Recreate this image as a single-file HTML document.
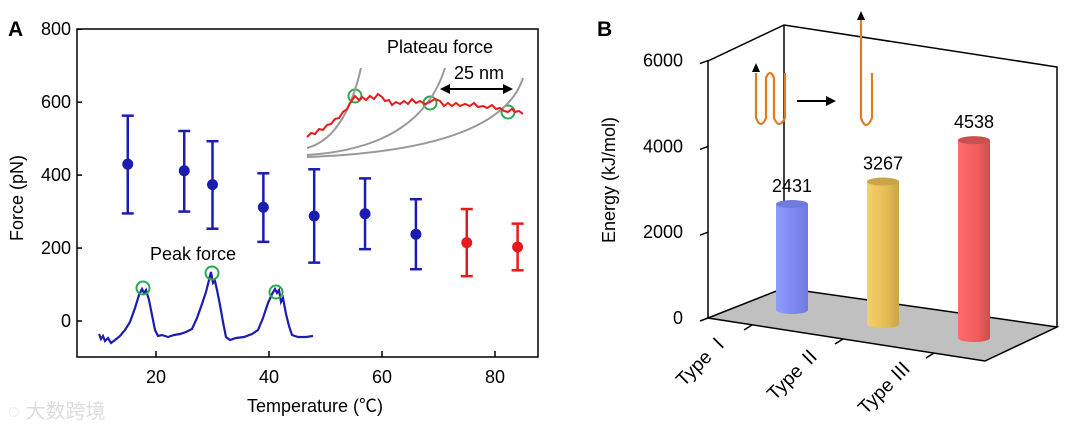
<!DOCTYPE html>
<html><head><meta charset="utf-8"><style>
body{margin:0;background:#fff;}
svg{display:block;font-family:"Liberation Sans","Noto Sans CJK SC",sans-serif;}
</style></head><body>
<svg width="1080" height="430" viewBox="0 0 1080 430">
<g id="panelA"></g>
<g id="panelB"></g>
<text x="8" y="418" font-size="20" fill="#ddd">◌ 大数跨境</text>
</svg>
<script>
const temps=[15,25,30,39,48,57,66,75,84];
const forceMean=[430,412,374,312,288,294,238,215,203];
const forceLow=[295,300,253,217,160,197,142,123,139];
const forceHigh=[563,521,493,405,416,391,334,307,267];
const pointColors=["b","b","b","b","b","b","b","r","r"];
const xTicks=[20,40,60,80];
const yTicks=[0,200,400,600,800];
const energyCats=["Type Ⅰ","Type Ⅱ","Type Ⅲ"];
const energyVals=[2431,3267,4538];
const energyTicks=[0,2000,4000,6000];

const NS="http://www.w3.org/2000/svg";
function mk(tag,attrs,parent,text){const e=document.createElementNS(NS,tag);for(const k in attrs)e.setAttribute(k,attrs[k]);if(text!==undefined)e.textContent=text;parent.appendChild(e);return e;}
const A=document.getElementById('panelA');
const xs=v=>43+v*5.65;
const ys=v=>321-v*0.3647;
let e=mk('rect',{x:77,y:29,width:461,height:328,fill:'none',stroke:'#000','stroke-width':1.5},A);

e=mk('text',{x:8,y:36,'font-size':21,'font-weight':'bold'},A,'A');

yTicks.forEach(t=>{
  e=mk('line',{x1:77,x2:82,y1:ys(t),y2:ys(t),stroke:'#000','stroke-width':1.5},A);
  
  e=mk('text',{x:71,y:ys(t)+6,'font-size':18,'text-anchor':'end'},A,String(t));
  
});
xTicks.forEach(t=>{
  e=mk('line',{x1:xs(t),x2:xs(t),y1:357,y2:351,stroke:'#000','stroke-width':1.5},A);
  
  e=mk('text',{x:xs(t),y:383,'font-size':18,'text-anchor':'middle'},A,String(t));
  
});
e=mk('text',{x:315,y:412,'font-size':18,'text-anchor':'middle'},A,'Temperature (℃)');

e=mk('text',{x:0,y:0,'font-size':18,'text-anchor':'middle',transform:'translate(23,198) rotate(-90)'},A,'Force (pN)');

temps.forEach((t,i)=>{
  const c=pointColors[i]==='r'?'#e8191a':'#1c1cb0';
  const g=mk('g',{},A);
  
  const x=xs(t);
  mk('line',{x1:x,x2:x,y1:ys(forceLow[i]),y2:ys(forceHigh[i]),stroke:c,'stroke-width':2.5},g);
  mk('line',{x1:x-6,x2:x+6,y1:ys(forceLow[i]),y2:ys(forceLow[i]),stroke:c,'stroke-width':2.5},g);
  mk('line',{x1:x-6,x2:x+6,y1:ys(forceHigh[i]),y2:ys(forceHigh[i]),stroke:c,'stroke-width':2.5},g);
  mk('circle',{cx:x,cy:ys(forceMean[i]),r:5.5,fill:c},g);
});
e=mk('text',{x:193,y:260,'font-size':18,'text-anchor':'middle'},A,'Peak force');

e=mk('path',{d:'M99,334 L101,339 103,336 105,341 108,338 111,343 115,340 120,336 125,330 130,322 135,308 139,295 142,289 144,293 146,290 149,300 152,315 155,330 158,336 162,335 168,337 174,335 180,334 186,332 192,329 197,318 202,304 206,292 209,280 211,272 213,283 215,281 217,290 220,305 223,322 226,337 230,340 236,338 244,337 252,334 258,330 263,318 268,303 272,294 275,289 277,293 279,290 281,302 283,298 286,314 289,326 292,335 298,337 306,337 313,336',fill:'none',stroke:'#1c1cb0','stroke-width':2.2},A);

[[143,288],[212,273],[276,292],[355,96],[430,103],[508,112]].forEach(p=>{
  e=mk('circle',{cx:p[0],cy:p[1],r:6.5,fill:'none',stroke:'#2aaa4a','stroke-width':2},A);
  
});
e=mk('text',{x:440,y:53,'font-size':18,'text-anchor':'middle'},A,'Plateau force');

e=mk('text',{x:479,y:79,'font-size':18,'text-anchor':'middle'},A,'25 nm');

['M307,148 Q345,138 361,68','M307,155 Q420,148 445,68','M307,157 Q500,150 523,78'].forEach(d=>{
  e=mk('path',{d:d,fill:'none',stroke:'#999','stroke-width':2},A);
  
});
e=mk('path',{d:'M307,137 L311,133 315,134 319,129 323,130 327,125 331,124 335,119 339,118 343,112 347,109 350,103 355,96 359,100 362,97 366,100 370,96 374,99 378,94 382,97 385,101 389,100 392,105 396,102 400,104 404,101 408,104 412,99 416,103 420,101 425,104 430,102 435,99 440,101 444,106 448,103 452,106 456,103 460,106 465,104 470,106 474,103 478,107 483,106 487,108 492,105 496,109 500,108 504,111 508,112 512,109 515,112 519,111 523,114',fill:'none',stroke:'#e8191a','stroke-width':2},A);

e=mk('line',{x1:444,x2:509,y1:89,y2:89,stroke:'#000','stroke-width':2},A);

mk('path',{d:'M440,89 L450,84 L450,94Z'},A);
mk('path',{d:'M513,89 L503,84 L503,94Z'},A);

const B=document.getElementById('panelB');
const eScale=0.0436;
const ey=v=>318-v*0.0429;
e=mk('text',{x:597,y:36,'font-size':21,'font-weight':'bold'},B,'B');

e=mk('polygon',{points:'708,318 784,288 1057,327 985,361',fill:'#c0c0c0',stroke:'#000','stroke-width':1.5},B);

e=mk('path',{d:'M708,318 L708,61 L784,25 L1057,67 L1057,327 M784,25 L784,288',fill:'none',stroke:'#000','stroke-width':1.5},B);

energyTicks.forEach(t=>{
  e=mk('line',{x1:700,x2:708,y1:ey(t)+3,y2:ey(t),stroke:'#000','stroke-width':1.5},B);
  
  e=mk('text',{x:683,y:ey(t)+6,'font-size':18,'text-anchor':'end'},B,String(t));
  
});
e=mk('text',{x:0,y:0,'font-size':18,'text-anchor':'middle',transform:'translate(615,180) rotate(-90)'},B,'Energy (kJ/mol)');

const barCols=[['#8f9cfb','#6f7ae0','#7c87f0'],['#f5cf6a','#c9a44a','#e7bc55'],['#fd6c6c','#c95050','#f25c5c']];
energyVals.forEach((v,i)=>{
  const cx=792+i*91, base=310+i*14, top=base-v*eScale, w=16;
  const g=mk('g',{},B);
  
  const gid='gr'+i;
  const lg=mk('linearGradient',{id:gid,x1:0,x2:1,y1:0,y2:0},g);
  mk('stop',{offset:'0','stop-color':barCols[i][0]},lg);
  mk('stop',{offset:'0.6','stop-color':barCols[i][2]},lg);
  mk('stop',{offset:'1','stop-color':barCols[i][1]},lg);
  mk('path',{d:`M${cx-w},${top} L${cx-w},${base} A${w},4 0 0 0 ${cx+w},${base} L${cx+w},${top}Z`,fill:`url(#${gid})`},g);
  mk('ellipse',{cx:cx,cy:top,rx:w,ry:4,fill:barCols[i][1]},g);
  e=mk('text',{x:cx,y:top-12,'font-size':18,'text-anchor':'middle'},B,String(v));
  
  const tx=750+i*91, ty=327+i*14;
  e=mk('line',{x1:tx-6,x2:tx+2,y1:ty+3,y2:ty-2,stroke:'#000','stroke-width':1.5},B);
  
  e=mk('text',{x:0,y:0,'font-size':19,'text-anchor':'end',transform:`translate(${tx-20},${ty+14}) rotate(-45)`},B,energyCats[i]);
  
});
e=mk('path',{d:'M756,73 L756,118 Q761,130 766,118 L766,78 Q770,68 774,78 L774,118 Q779,130 785,118 L785,73',fill:'none',stroke:'#e07b20','stroke-width':2.2},B);

mk('path',{d:'M752,72 L756,63 L760,72Z'},B);
e=mk('line',{x1:797,x2:828,y1:101,y2:101,stroke:'#000','stroke-width':2},B);

mk('path',{d:'M836,101 L826,96 L826,106Z'},B);
e=mk('path',{d:'M861,18 L861,118 Q866,132 872,118 L872,73',fill:'none',stroke:'#e07b20','stroke-width':2.2},B);

mk('path',{d:'M857,20 L861,11 L865,20Z'},B);
</script>
</body></html>
